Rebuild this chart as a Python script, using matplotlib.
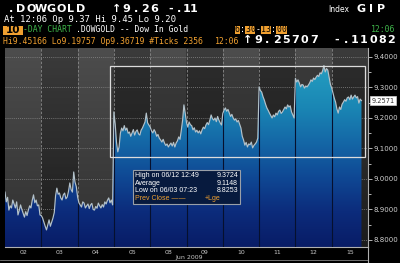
import numpy as np
import matplotlib
matplotlib.use('Agg')
import matplotlib.pyplot as plt
import matplotlib.transforms as mtransforms
from matplotlib.colors import LinearSegmentedColormap
from matplotlib.patches import Rectangle

# --- data ---
days = ['02', '03', '04', '05', '08', '09', '10', '11', '12', '15']

day02 = [8.957, 8.925, 8.940, 8.898, 8.912, 8.905, 8.931, 8.918, 8.905, 8.925, 8.882, 8.897, 8.915, 8.900,
         8.888, 8.875, 8.893, 8.880, 8.898, 8.912, 8.905, 8.930, 8.948, 8.922, 8.931, 8.912, 8.915, 8.882]
day03 = [8.880, 8.872, 8.858, 8.845, 8.833, 8.850, 8.866, 8.845, 8.858, 8.872, 8.890, 8.945, 8.970, 8.950,
         8.954, 8.938, 8.931, 8.948, 8.954, 8.935, 8.941, 8.960, 8.987, 8.965, 8.957, 9.023, 8.990, 8.975]
day04 = [8.941, 8.922, 8.915, 8.908, 8.925, 8.921, 8.905, 8.912, 8.918, 8.903, 8.915, 8.920, 8.900, 8.898,
         8.910, 8.904, 8.921, 8.912, 8.905, 8.916, 8.908, 8.925, 8.918, 8.930, 8.938, 8.922, 8.931, 8.915]
day05 = [9.220, 9.180, 9.120, 9.089, 9.105, 9.150, 9.167, 9.158, 9.175, 9.160, 9.167, 9.150, 9.154, 9.140,
         9.151, 9.162, 9.144, 9.156, 9.161, 9.148, 9.144, 9.160, 9.167, 9.177, 9.187, 9.216, 9.184, 9.177]
day08 = [9.170, 9.158, 9.151, 9.162, 9.154, 9.140, 9.146, 9.134, 9.128, 9.121, 9.130, 9.118, 9.110, 9.115,
         9.105, 9.112, 9.118, 9.108, 9.120, 9.105, 9.118, 9.125, 9.138, 9.130, 9.160, 9.193, 9.243, 9.216]
day09 = [9.185, 9.170, 9.187, 9.178, 9.175, 9.161, 9.168, 9.154, 9.160, 9.151, 9.158, 9.148, 9.161, 9.170,
         9.165, 9.177, 9.185, 9.178, 9.193, 9.210, 9.198, 9.193, 9.200, 9.188, 9.205, 9.193, 9.184, 9.177]
day10 = [9.215, 9.226, 9.233, 9.222, 9.228, 9.216, 9.205, 9.212, 9.200, 9.193, 9.197, 9.187, 9.192, 9.180,
         9.167, 9.140, 9.128, 9.111, 9.120, 9.105, 9.115, 9.112, 9.121, 9.102, 9.110, 9.115, 9.121, 9.134]
day11 = [9.302, 9.290, 9.285, 9.270, 9.259, 9.245, 9.233, 9.225, 9.216, 9.208, 9.200, 9.210, 9.204, 9.216,
         9.210, 9.222, 9.226, 9.215, 9.220, 9.228, 9.236, 9.230, 9.243, 9.236, 9.240, 9.220, 9.210, 9.200]
day12 = [9.330, 9.318, 9.325, 9.315, 9.302, 9.310, 9.308, 9.298, 9.305, 9.302, 9.308, 9.315, 9.325, 9.320,
         9.331, 9.326, 9.334, 9.340, 9.336, 9.348, 9.345, 9.355, 9.372, 9.351, 9.362, 9.357, 9.334, 9.310]
day15 = [9.298, 9.282, 9.265, 9.252, 9.230, 9.216, 9.236, 9.228, 9.245, 9.252, 9.260, 9.255, 9.266, 9.269,
         9.260, 9.275, 9.262, 9.269, 9.275, 9.266, 9.270, 9.249, 9.262, 9.257]
day_series = [day02, day03, day04, day05, day08, day09, day10, day11, day12, day15]
last_day_frac = 0.82  # session 06:30-13:00, last print 12:06

y_ticks = [8.8, 8.9, 9.0, 9.1, 9.2, 9.3, 9.4]
prev_close = 9.2571

stats_labels = ['High on 06/12 12:49', 'Average', 'Low on 06/03 07:23']
stats_values = ['9.3724', '9.1148', '8.8253']

W, H = 400, 263
def fx(px):
    return px / W
def fy(py):
    return 1 - py / H

ORANGE = '#f0a030'
GREEN = '#3fb44a'

# x positions: one unit per trading day
xs, ys = [], []
for d, vals in enumerate(day_series):
    span = last_day_frac if d == len(day_series) - 1 else 1.0
    t = np.linspace(0, span, len(vals), endpoint=(d == len(day_series) - 1))
    xs.extend(d + t)
    ys.extend(vals)
xs = np.array(xs)
ys = np.array(ys)

ylo, yhi = 8.777, 9.4295
xmax = 10.0

fig = plt.figure(figsize=(4, 2.63), dpi=100, facecolor='black')
ax = fig.add_axes([fx(5), fy(247), fx(368) - fx(5), fy(48) - fy(247)])
ax.set_facecolor('black')

# background: alternating day columns, darker towards the bottom
rows = 60
bg = np.zeros((rows, len(days), 3))
v = np.linspace(0, 1, rows)[:, None]
for c in range(len(days)):
    if c % 2 == 0:
        shade = 0.19 + 0.11 * v[:, 0]
    else:
        shade = 0.11 + 0.12 * v[:, 0]
    bg[:, c, :] = shade[:, None]
ax.imshow(bg, extent=(0, len(days), ylo, yhi), origin='lower', aspect='auto',
          interpolation='nearest', zorder=0)
# darker inside the highlight box
ax.add_patch(Rectangle((2.89, 9.072), 9.91 - 2.89, 9.3705 - 9.072,
                       facecolor='black', alpha=0.22, edgecolor='none', zorder=0.5))

# grid
ax.hlines(y_ticks, 0, xmax, colors='#8a8a8a', linestyles=(0, (1, 1.5)), lw=0.6, zorder=1)
ax.vlines(np.arange(1, len(days)), ylo, yhi, colors='#8a8a8a', linestyles=(0, (3, 2)),
          lw=0.6, zorder=1)

# gradient area under the curve
fill_cmap = LinearSegmentedColormap.from_list('bbg', [
    (0.00, '#081c66'), (0.18, '#0c2c7c'), (0.35, '#0f4894'),
    (0.52, '#1466a6'), (0.70, '#1a86b4'), (1.00, '#28a8c6')])
poly = ax.fill_between(xs, ylo, ys, color='none', lw=0)
grad = np.linspace(0, 1, 256).reshape(-1, 1)
im = ax.imshow(grad, extent=(0, xmax, ylo, yhi), origin='lower', aspect='auto',
               cmap=fill_cmap, zorder=2)
clip = poly.get_paths()[0]
im.set_clip_path(clip, ax.transData)

# day separators look dark over the fill
sep = ax.vlines(np.arange(1, len(days)), ylo, yhi, colors='#06102e', lw=0.8, zorder=3)
sep.set_clip_path(clip, ax.transData)

ax.plot(xs, ys, color='#b4c2ca', lw=0.85, zorder=4)

# highlight rectangle
ax.add_patch(Rectangle((2.89, 9.072), 9.91 - 2.89, 9.3705 - 9.072,
                       fill=False, edgecolor='#dcdcdc', lw=0.9, zorder=5))

ax.set_xlim(0, xmax)
ax.set_ylim(ylo, yhi)

# axes
for s in ['left', 'top']:
    ax.spines[s].set_visible(False)
for s in ['right', 'bottom']:
    ax.spines[s].set_color('#b0b0b0')
    ax.spines[s].set_linewidth(0.8)

ax.set_xticks(np.arange(len(days)) + 0.5)
ax.set_xticklabels(days)
ax.tick_params(axis='x', length=0, labelsize=4.5, labelcolor='#c8c8c8', pad=2.5)

ax.yaxis.tick_right()
ax.set_yticks(y_ticks)
ax.set_yticklabels([f'{t:.4f}' for t in y_ticks])
ax.set_yticks([t + 0.05 for t in y_ticks[:-1]], minor=True)
ax.tick_params(axis='y', which='major', length=3, width=0.6, color='#d0d0d0',
               labelsize=5, labelcolor='#d0d0d0', pad=1)
ax.tick_params(axis='y', which='minor', length=2, width=0.6, color='#d0d0d0')

fig.text(fx(189), fy(258), 'Jun 2009', color='#c8c8c8', fontsize=4.5, ha='center', va='center')
fig.add_artist(plt.Line2D([0, fx(368)], [fy(260), fy(260)], color='#808080', lw=0.6))
fig.add_artist(plt.Line2D([fx(368), fx(368)], [0, fy(247)], color='#b0b0b0', lw=0.8))

# last value tag
trans = mtransforms.blended_transform_factory(ax.transAxes, ax.transData)
ax.text(1.01, prev_close, f'{prev_close:.4f}', transform=trans, ha='left', va='center',
        fontsize=4.8, color='#303030', zorder=6,
        bbox=dict(boxstyle='square,pad=0.2', facecolor='white', edgecolor='#d0d0d0', lw=0.5))

# stats box
fig.add_artist(Rectangle((fx(133), fy(204)), fx(240) - fx(133), fy(170) - fy(204),
                         transform=fig.transFigure, facecolor='#071a3e',
                         edgecolor='#9aa0a8', lw=0.8, zorder=10))
row_y = [175.5, 183.3, 191.0, 198.5]
for lab, val, py in zip(stats_labels, stats_values, row_y):
    fig.text(fx(135), fy(py), lab, color='white', fontsize=5, family='Liberation Sans',
             va='center', zorder=11)
    fig.text(fx(238), fy(py), val, color='white', fontsize=5, family='Liberation Sans',
             va='center', ha='right', zorder=11)
fig.text(fx(135), fy(row_y[3]), 'Prev Close \u2014\u2014', color=ORANGE, fontsize=5,
         family='Liberation Sans', va='center', zorder=11)
fig.text(fx(205), fy(row_y[3]), '+Lge', color=ORANGE, fontsize=5,
         family='Liberation Sans', va='center', zorder=11)

# --- header ---
def spaced(px, py, s, step, **kw):
    for i, ch in enumerate(s):
        fig.text(fx(px + i * step), fy(py), ch, ha='center', va='center', **kw)

big = dict(color='white', fontsize=8, fontweight='bold')
spaced(11, 9, '.DOWGOLD', 10, **big)
spaced(117, 9, '\u21919.26', 9.3, **big)
spaced(171, 9, '-.11', 7.6, **big)
fig.text(fx(328), fy(9), 'Index', color='white', fontsize=5.5, va='center')
spaced(361, 9, 'GIP', 10, **big)

mono = dict(family='DejaVu Sans Mono', va='center')
fig.text(fx(4), fy(19.5), 'At 12:06 Op 9.37 Hi 9.45 Lo 9.20', color='white', fontsize=6.4, **mono)

fig.add_artist(Rectangle((fx(3), fy(34.5)), fx(23) - fx(3), fy(25.5) - fy(34.5),
                         transform=fig.transFigure, facecolor=ORANGE, edgecolor='none'))
fig.text(fx(13), fy(30), '10', color='black', fontsize=7.5, fontweight='bold',
         ha='center', va='center')
fig.text(fx(23), fy(30), '-DAY CHART', color=GREEN, fontsize=5.9, **mono)
fig.text(fx(76), fy(30), '.DOWGOLD -- Dow In Gold', color='white', fontsize=5.9, **mono)

x0, step = 235, 5.2
sess = '6:30-13:00'
for i0, i1 in [(0, 1), (2, 4), (5, 7), (8, 10)]:
    fig.add_artist(Rectangle((fx(x0 + i0 * step - 0.5), fy(34)), (i1 - i0) * step / W, 8.5 / H,
                             transform=fig.transFigure, facecolor=ORANGE, edgecolor='none'))
for i, ch in enumerate(sess):
    col = 'white' if ch in ':-' else 'black'
    fig.text(fx(x0 + (i + 0.5) * step - 0.5), fy(30), ch, color=col, fontsize=5.9,
             ha='center', family='DejaVu Sans Mono', va='center')
fig.text(fx(395), fy(30), '12:06', color=GREEN, fontsize=5.9, ha='right', **mono)

fig.text(fx(3), fy(41), 'Hi9.45166 Lo9.19757 Op9.36719 #Ticks 2356', color=ORANGE,
         fontsize=5.9, **mono)
fig.text(fx(215), fy(41), '12:06', color=ORANGE, fontsize=5.9, **mono)
spaced(248, 40, '\u2191', 9, **big)
spaced(258, 40, '9.25707', 9.3, **big)
spaced(337, 40, '-.11082', 9.0, **big)

fig.savefig('out.png', dpi=100, facecolor='black')
